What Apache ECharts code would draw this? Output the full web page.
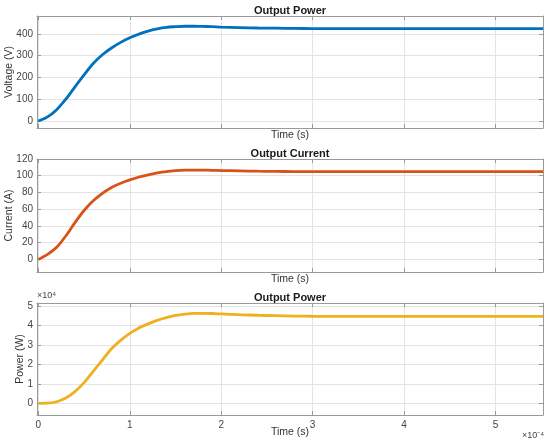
<!DOCTYPE html>
<html>
<head>
<meta charset="utf-8">
<script src="https://cdn.jsdelivr.net/npm/echarts@6/dist/echarts.min.js"></script>
<style>
  html, body { margin: 0; padding: 0; background: #fff; }
  #chart { width: 550px; height: 443px; }
</style>
</head>
<body>
<div id="chart"></div>
<script>
// time in units of 1e-4 s
const timeE4 = [0, 0.1, 0.2, 0.3, 0.4, 0.5, 0.6, 0.7, 0.8, 0.9, 1.0, 1.1, 1.2, 1.3, 1.4, 1.5,
  1.6, 1.7, 1.8, 1.9, 2.0, 2.2, 2.4, 2.6, 2.8, 3.0, 3.5, 4.0, 4.5, 5.0, 5.52];

const voltage = [0, 19, 52, 100, 157, 212, 264, 304, 335, 361, 382, 399, 413, 423, 430, 433,
  435, 435, 434, 433, 431, 429, 427, 426, 425, 424.5, 424, 424, 424, 424, 424];

const current = [0, 6, 14.5, 28, 44, 58.5, 70, 79, 86, 91, 95, 98.5, 101, 103.3, 105, 106,
  106.6, 106.8, 106.7, 106.5, 106.2, 105.8, 105.4, 105.2, 105, 104.9, 104.8, 104.8, 104.8, 104.8, 104.8];

// watts
const power = [0, 60, 800, 2700, 6000, 10600, 16400, 22200, 28000, 32300, 35900, 38700, 40800,
  42600, 44000, 45100, 45800, 46200, 46200, 46100, 45900, 45500, 45200, 45000, 44800, 44700,
  44600, 44600, 44600, 44600, 44600];

const timeTicks = [0, 1, 2, 3, 4, 5];
const voltageTicks = [0, 100, 200, 300, 400];
const currentTicks = [0, 20, 40, 60, 80, 100, 120];
const powerTicks = [0, 10000, 20000, 30000, 40000, 50000];

const colors = { blue: '#0072bd', orange: '#d95319', yellow: '#edb120' };
const font = 'Liberation Sans, Arial, sans-serif';
const boxColor = '#9a9a9a';
const gridColor = '#e4e4e4';

const panels = [
  { title: 'Output Power', yName: 'Voltage (V)', data: voltage, ticks: voltageTicks,
    min: -32, max: 482, color: colors.blue, top: 16, height: 112, xLabels: false, div: 1, nameGap: 22 },
  { title: 'Output Current', yName: 'Current (A)', data: current, ticks: currentTicks,
    min: -15, max: 120, color: colors.orange, top: 159, height: 113, xLabels: false, div: 1, nameGap: 22 },
  { title: 'Output Power', yName: 'Power (W)', data: power, ticks: powerTicks,
    min: -6000, max: 51500, color: colors.yellow, top: 303, height: 112, xLabels: true, div: 10000, nameGap: 11 },
];

const xMin = -0.015, xMax = 5.52;
const gridLeft = 37, gridWidth = 506;

const grid = [], xAxis = [], yAxis = [], series = [], title = [];

panels.forEach((p, i) => {
  grid.push({ left: gridLeft, width: gridWidth, top: p.top, height: p.height, outerBoundsMode: 'none' });
  title.push({
    text: p.title, left: gridLeft + gridWidth / 2, top: p.top - 11, textAlign: 'center', padding: 0,
    textStyle: { fontFamily: font, fontSize: 11, fontWeight: 'bold', color: '#1a1a1a' },
  });
  // bottom x axis
  xAxis.push({
    type: 'value', gridIndex: i, min: xMin, max: xMax, position: 'bottom',
    name: 'Time (s)', nameLocation: 'middle', nameGap: p.xLabels ? 12 : 2, nameMoveOverlap: false,
    nameTextStyle: { fontFamily: font, fontSize: 10.5, color: '#333', verticalAlign: 'top' },
    axisLine: { onZero: false, lineStyle: { color: boxColor } },
    axisTick: { inside: true, length: 4, customValues: timeTicks, lineStyle: { color: boxColor } },
    axisLabel: { show: p.xLabels, customValues: timeTicks, margin: 5, fontFamily: font, fontSize: 10, color: '#444' },
    splitLine: { show: true, lineStyle: { color: gridColor } },
  });
  // top x axis (box)
  xAxis.push({
    type: 'value', gridIndex: i, min: xMin, max: xMax, position: 'top',
    axisLine: { onZero: false, lineStyle: { color: boxColor } },
    axisTick: { inside: true, length: 4, customValues: timeTicks, lineStyle: { color: boxColor } },
    axisLabel: { show: false }, splitLine: { show: false },
  });
  yAxis.push({
    type: 'value', gridIndex: i, min: p.min, max: p.max, position: 'left',
    name: p.yName, nameLocation: 'middle', nameGap: p.nameGap, nameRotate: 90, nameMoveOverlap: false,
    nameTextStyle: { fontFamily: font, fontSize: 10.5, color: '#333' },
    axisLine: { show: true, onZero: false, lineStyle: { color: boxColor } },
    axisTick: { show: true, inside: true, length: 4, customValues: p.ticks, lineStyle: { color: boxColor } },
    axisLabel: {
      customValues: p.ticks, margin: 4, fontFamily: font, fontSize: 10, color: '#444',
      formatter: v => String(Math.round(v / p.div)),
    },
    splitLine: { show: true, lineStyle: { color: gridColor } },
  });
  yAxis.push({
    type: 'value', gridIndex: i, min: p.min, max: p.max, position: 'right',
    axisLine: { show: true, onZero: false, lineStyle: { color: boxColor } },
    axisTick: { show: true, inside: true, length: 4, customValues: p.ticks, lineStyle: { color: boxColor } },
    axisLabel: { show: false }, splitLine: { show: false },
  });
  series.push({
    type: 'line', xAxisIndex: i * 2, yAxisIndex: i * 2,
    data: timeE4.map((t, k) => [t, p.data[k]]),
    showSymbol: false, smooth: 0.3,
    lineStyle: { color: p.color, width: 2.8 },
    silent: true,
  });
});

const chart = echarts.init(document.getElementById('chart'));
chart.setOption({
  backgroundColor: '#ffffff',
  animation: false,
  title,
  grid, xAxis, yAxis, series,
  graphic: [
    {
      type: 'text', left: 37, top: 291,
      style: { text: '×10⁴', fontFamily: font, fontSize: 9, fill: '#444' },
    },
    {
      type: 'text', left: 522, top: 431,
      style: { text: '×10⁻⁴', fontFamily: font, fontSize: 9, fill: '#444' },
    },
  ],
});

window.addEventListener('resize', () => chart.resize());
</script>
</body>
</html>
